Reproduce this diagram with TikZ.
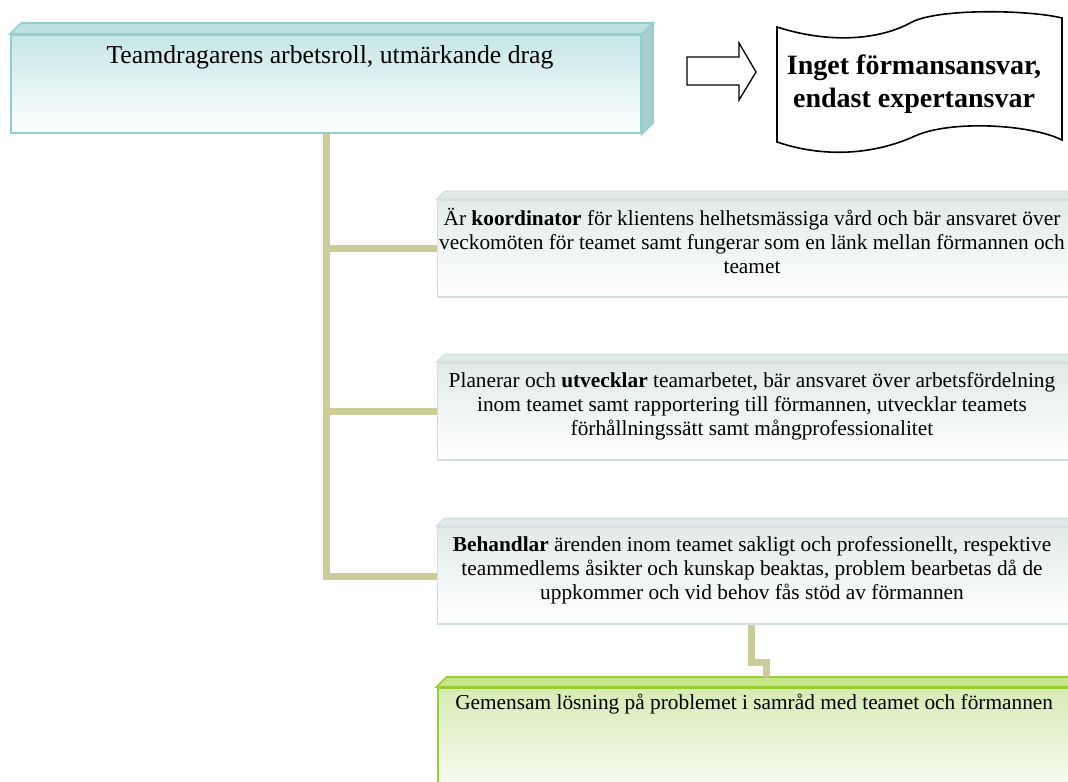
\documentclass[tikz,border=0pt]{standalone}
\usepackage{fontspec}
\setmainfont{Liberation Serif}
\usetikzlibrary{positioning,calc}

\definecolor{tealedge}{RGB}{147,207,207}
\definecolor{tealtop}{RGB}{198,230,230}
\definecolor{tealface}{RGB}{190,224,224}
\definecolor{tealside}{RGB}{170,206,206}
\definecolor{greyedge}{RGB}{212,224,224}
\definecolor{greytop}{RGB}{226,234,234}
\definecolor{greyface}{RGB}{224,232,232}
\definecolor{greenedge}{RGB}{153,204,51}
\definecolor{greentop}{RGB}{214,235,180}
\definecolor{greenface}{RGB}{200,230,135}
\definecolor{khaki}{RGB}{204,204,153}

\tikzset{
  headbox/.style={draw=tealedge, line width=1.5pt, top color=tealtop, bottom color=white,
    minimum width=472.5pt, minimum height=73.5pt, inner sep=0pt},
  itembox/.style={draw=greyedge, line width=1.2pt, top color=greytop, bottom color=white,
    minimum width=478.5pt, minimum height=72.75pt, inner sep=0pt},
  resultbox/.style={draw=greenedge, line width=1.5pt, top color=greentop, bottom color=white,
    minimum width=478.5pt, minimum height=80pt, inner sep=0pt},
  bodytext/.style={align=center, inner sep=0pt, font=\fontsize{16}{18}\selectfont},
  trunk/.style={draw=khaki, line width=5.25pt}
}

\begin{document}
\begin{tikzpicture}[x=0.75pt, y=-0.75pt]
  \useasboundingbox (0,0) rectangle (1068,782);
  \clip (0,0) rectangle (1068,782);

  % boxes
  \node[headbox] (head) at (326,84) {};
  \node[itembox] (koord) at (756.5,248.5) {};
  \node[itembox] (plan) at (756.5,411.5) {};
  \node[itembox] (beh) at (756.5,575.5) {};
  \node[resultbox, minimum height=90pt] (losn) at (756.5,748) {};

  % 3d faces
  \draw[tealedge, fill=tealface, line width=1.2pt] (head.north west) -- ++(11,-11)
    -- ($(head.north east)+(11,-11)$) -- (head.north east) -- cycle;
  \draw[tealedge, fill=tealside, line width=1.2pt] (head.north east) -- ++(11,-11)
    -- ($(head.south east)+(11,-11)$) -- (head.south east) -- cycle;
  \foreach \b in {koord,plan,beh}
    \draw[greyedge, fill=greyface, line width=1pt] (\b.north west) -- ++(8,-8)
      -- ($(\b.north east)+(8,-8)$) -- (\b.north east) -- cycle;
  \draw[greenedge, fill=greenface, line width=1.2pt] (losn.north west) -- ++(10,-10)
    -- ($(losn.north east)+(10,-10)$) -- (losn.north east) -- cycle;

  % connectors
  \draw[trunk] (head.south) |- (koord.west);
  \draw[trunk] (head.south) |- (plan.west);
  \draw[trunk] (head.south) |- ([yshift=-0.4pt]beh.west);
  \coordinate (jog) at ($(losn.north)+(9.5,-10)$);
  \draw[trunk] ([xshift=-3.5]beh.south) |- ($(beh.south)!0.5!(jog)+(0,12)$) -| (jog);

  % texts
  \node[inner sep=0pt, font=\fontsize{19.3}{22}\selectfont] (headtxt) at (330,57)
    {Teamdragarens arbetsroll, utmärkande drag};
  \node[bodytext] (koordtxt) at (752,241)
    {Är \textbf{koordinator} för klientens helhetsmässiga vård och bär ansvaret över\\
     veckomöten för teamet samt fungerar som en länk mellan förmannen och\\
     teamet};
  \node[bodytext] (plantxt) at (752,406)
    {Planerar och \textbf{utvecklar} teamarbetet, bär ansvaret över arbetsfördelning\\
     inom teamet samt rapportering till förmannen, utvecklar teamets\\
     förhållningssätt samt mångprofessionalitet};
  \node[bodytext] (behtxt) at (752,570)
    {\textbf{Behandlar} ärenden inom teamet sakligt och professionellt, respektive\\
     teammedlems åsikter och kunskap beaktas, problem bearbetas då de\\
     uppkommer och vid behov fås stöd av förmannen};
  \node[bodytext, anchor=west] (losntxt) at (455,704)
    {Gemensam lösning på problemet i samråd med teamet och förmannen};

  % block arrow
  \draw[line width=1pt] (687,57) -- (739,57) -- (739,43) -- (756,72) -- (739,100)
    -- (739,85) -- (687,85) -- cycle;

  % wave note
  \draw[line width=1.2pt, fill=white] (777,27) .. controls (830,44) and (880,40) .. (912,22)
    .. controls (940,8) and (1030,10) .. (1062,18) -- (1062,140)
    .. controls (1030,124) and (950,120) .. (915,136)
    .. controls (880,152) and (830,160) .. (777,142) -- cycle;
  \node[align=center, inner sep=0pt, font=\bfseries\fontsize{21}{25}\selectfont] (note)
    at (914,84) {Inget förmansansvar,\\endast expertansvar};
\end{tikzpicture}
\end{document}
